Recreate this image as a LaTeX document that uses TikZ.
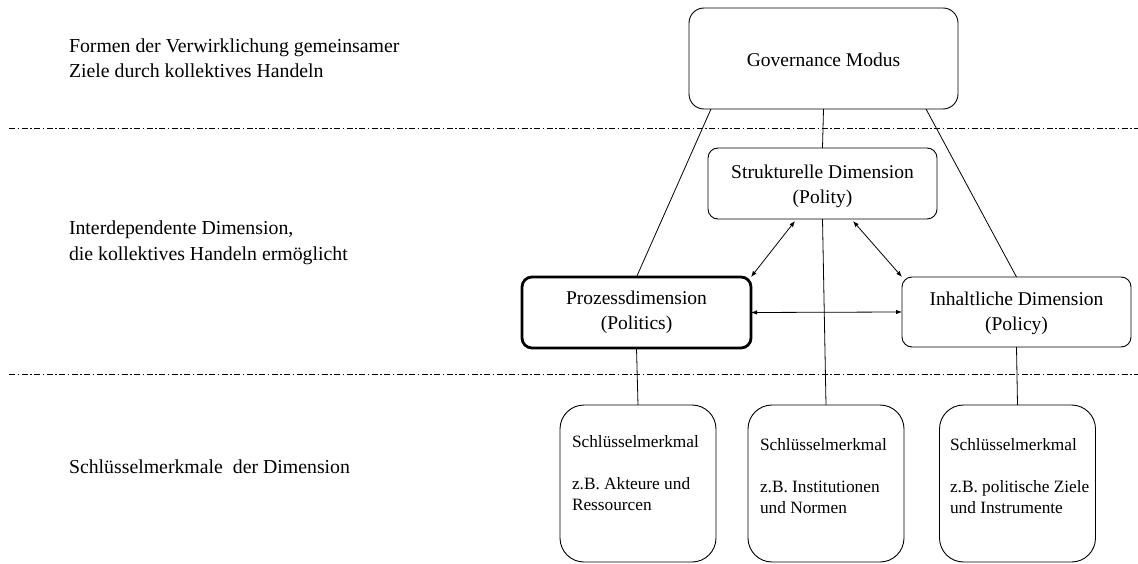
\documentclass[tikz,border=0pt]{standalone}
\usepackage{fontspec}
\setmainfont{Liberation Serif}
\usetikzlibrary{arrows.meta}
% strut that lowers the first line of a box label
\newcommand{\toppad}[1]{\rule{0pt}{#1}}
\begin{document}
\begin{tikzpicture}[x=1pt,y=-1pt,
  every node/.style={inner sep=0pt, outer sep=0pt},
  box/.style={draw, line width=0.9pt, rounded corners=10pt, align=center,
    minimum width=229pt, minimum height=71pt,
    font=\fontsize{19.5}{25}\selectfont},
  keybox/.style={draw, line width=0.9pt, rounded corners=24pt,
    minimum width=156pt, minimum height=157pt},
  keytext/.style={anchor=base west, align=left,
    font=\fontsize{17.3}{21}\selectfont},
  sidetext/.style={anchor=base west, align=left,
    font=\fontsize{19.8}{25}\selectfont},
  conn/.style={line width=0.8pt},
  dbl/.style={line width=0.8pt, {Latex[length=6pt,width=4.5pt]}-{Latex[length=6pt,width=4.5pt]}},
  level/.style={line width=0.7pt, dash pattern=on 6pt off 2.5pt on 1.5pt off 2.5pt}]

\useasboundingbox (0,0) rectangle (1138,564);

% level separators
\coordinate (s1a) at (9,128);
\coordinate (s1b) at (1138,128);
\coordinate (s2a) at (9,374);
\coordinate (s2b) at (1138,374);
\draw[level] (s1a) -- (s1b);
\draw[level] (s2a) -- (s2b);

% descriptions of the three levels
\node[sidetext] (l1) at (69,78) {Formen der Verwirklichung gemeinsamer\\Ziele durch kollektives Handeln};
\node[sidetext] (l2) at (69,260) {Interdependente Dimension,\\die kollektives Handeln ermöglicht};
\node[sidetext] (l3) at (69,473) {Schlüsselmerkmale\ \ der Dimension};

% governance mode and its dimensions
\node[box, rounded corners=15pt, minimum width=269pt, minimum height=101pt] (gov) at (823.5,58.5) {\toppad{17pt}Governance Modus};
\node[box] (struk) at (822.5,183.5) {\toppad{18.5pt}Strukturelle Dimension\\(Polity)};
\node[box, line width=2.8pt] (proz) at (636.5,312.5) {Prozessdimension\\(Politics)};
\node[box, minimum height=70pt] (inh) at (1016.5,312) {\toppad{17pt}Inhaltliche Dimension\\(Policy)};

% key features
\node[keybox] (k1) at (638,483.5) {};
\node[keybox] (k2) at (826,483.5) {};
\node[keybox] (k3) at (1017.5,483.5) {};
\node[keytext] (t1) at (572,510) {Schlüsselmerkmal\\[21pt]z.B. Akteure und\\Ressourcen};
\node[keytext] (t2) at (760,513) {Schlüsselmerkmal\\[21pt]z.B. Institutionen\\und Normen};
\node[keytext] (t3) at (950,513) {Schlüsselmerkmal\\[21pt]z.B. politische Ziele\\und Instrumente};

% connectors
\draw[conn] (gov.south) -- (struk.north);
\draw[conn] ([xshift=22pt]gov.south west) -- (proz.north);
\draw[conn] ([xshift=-32pt]gov.south east) -- (inh.north);
\draw[conn] (struk.south) -- (k2.north);
\draw[conn] (proz.south) -- (k1.north);
\draw[conn] (inh.south) -- (k3.north);
\draw[dbl] ([xshift=-27.5pt,yshift=-2pt]struk.south) -- (proz.north east);
\draw[dbl] ([xshift=30.5pt,yshift=-2pt]struk.south) -- (inh.north west);
\draw[dbl] (proz.east) -- (inh.west);
\end{tikzpicture}
\end{document}
